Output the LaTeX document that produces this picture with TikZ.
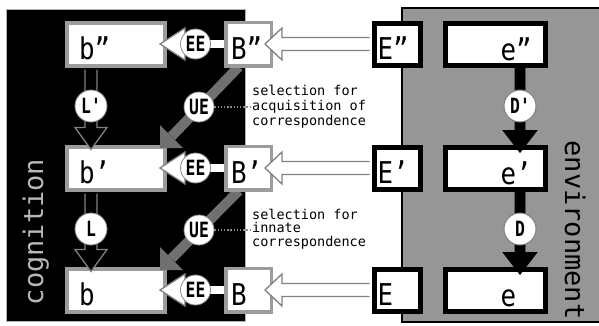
\documentclass[tikz,border=0pt]{standalone}
\usepackage{fontspec}
\usetikzlibrary{calc}
\newfontfamily\mono{DejaVu Sans Mono}
\newfontfamily\lblfont[FakeStretch=0.86]{DejaVu Sans Mono}
\newfontfamily\circfont[FakeStretch=0.78]{DejaVu Sans Mono Bold}
\definecolor{envgray}{HTML}{969696}
\definecolor{boxgray}{HTML}{9C9C9C}
\definecolor{uegray}{HTML}{707070}
\definecolor{cogtext}{HTML}{B8B8B8}
\definecolor{edgegray}{HTML}{8A8A8A}
\begin{document}
\begin{tikzpicture}[x=1pt,y=-1pt,
  cogbox/.style={draw=boxgray, line width=4pt, fill=white, inner sep=0pt},
  envbox/.style={draw=black, line width=5pt, fill=white, inner sep=0pt},
  lbl/.style={font=\lblfont\fontsize{30}{30}\selectfont, inner sep=0pt, anchor=base west},
  small/.style={font=\mono\fontsize{13.5}{13.5}\selectfont, inner sep=0pt, anchor=base west},
  circ/.style={circle, fill=white, draw=edgegray, line width=0.8pt, minimum size=30pt, inner sep=0pt, font=\circfont\fontsize{21}{21}\selectfont},
  hollow/.style={fill=white, draw=gray, line width=1.3pt, line join=miter},
  hollowdark/.style={fill=black, draw=gray, line width=1.3pt, line join=miter},
  dotline/.style={draw=edgegray, line width=1.4pt, dash pattern=on 1.4pt off 1.8pt},
  vert/.style={font=\mono\fontsize{27}{27}\selectfont, inner sep=0pt, anchor=base}]
\useasboundingbox (0,0) rectangle (599,325);
\fill[white] (0,0) rectangle (599,325);
% regions
\fill[black] (7,10) rectangle (245,321);
\draw[gray!60, line width=0.8pt] (6.6,9.6) rectangle (245,321.4);
\fill[envgray] (402,8) rectangle (600,322);
\draw[black, line width=1.5pt] (600,8) -- (402,8) -- (402,322) -- (600,322);
\node[vert, rotate=90, text=cogtext] (cog) at (43,232) {cognition};
\node[vert, rotate=-90, text=black] (env) at (565,230) {environment};
% boxes
\foreach \r/\c in {1/44, 2/168, 3/290}{
  \node[cogbox, minimum width=98pt, minimum height=43pt] (b\r) at (116,\c) {};
}
% UE arrows (under B boxes)
\foreach \r/\n in {1/2, 2/3}{
  \coordinate (tipUE\r) at ($(b\n.north east)+(-7,3.5)$);
  \draw[uegray, line width=10pt] (238.75,{\r==1 ? 66.75 : 190.75}) -- ($(tipUE\r)+(11.5,-11.5)$);
  \fill[uegray] (tipUE\r) -- ++(0,-23) -- ++(23,23) -- cycle;
}
\foreach \r/\c in {1/44, 2/168, 3/290}{
  \node[cogbox, line width=3.5pt, minimum width=45.5pt, minimum height=43.5pt] (B\r) at (248.5,\c) {};
  \node[envbox, minimum width=46pt, minimum height=42pt] (E\r) at (397.5,\c) {};
  \node[envbox, minimum width=100pt, minimum height=42pt] (e\r) at (495.5,\c) {};
  % E -> B hollow arrow
  \coordinate (tipEB\r) at ($(B\r.east)+(-8,0)$);
  \draw[hollow] ($(E\r.west)+(-2.5,-6.5)$) -- ($(tipEB\r)+(17,-6.5)$) -- ++(0,-9.5)
     -- (tipEB\r) -- ++(17,16) -- ++(0,-9.5) -- ($(E\r.west)+(-2.5,6.5)$);
  % EE circle and arrow to b
  \coordinate (EEc\r) at ($(B\r.west)+(-28.5,0)$);
  \fill[white] ($(EEc\r)+(0,-4)$) rectangle ($(B\r.west)+(0,4)$);
  \coordinate (tipEE\r) at ($(b\r.east)+(-7,0)$);
  \draw[hollow] ($(EEc\r)+(0,-6)$) -- ($(tipEE\r)+(25,-6)$) -- ++(0,-10)
     -- (tipEE\r) -- ++(25,16) -- ++(0,-10) -- ($(EEc\r)+(0,6)$);
  \node[circ] (EE\r) at (EEc\r) {EE};
}
% L arrows and D arrows
\foreach \r/\n/\lab in {1/2/{L'}, 2/3/{L}}{
  \draw[hollowdark] ($(b\r.south)+(-31,2)$) -- ($(b\n.north)+(-31,-17)$) -- ++(-10,0)
     -- ($(b\n.north)+(-25,5)$) -- ($(b\n.north)+(-9,-17)$) -- ++(-10,0) -- ($(b\r.south)+(-19,2)$);
  \node[circ, minimum size=32pt] (L\r) at ($($(b\r.south)!0.5!(b\n.north)$)+(-25,0)$) {\lab};
  \node[circ] (UE\r) at ($(b\r.south)!0.5!(b\n.north)+(83,1)$) {UE};
}
\foreach \r/\n/\lab in {1/2/{D'}, 2/3/{D}}{
  \filldraw[black, line width=0.6pt] ($(e\r.south)+(19.5,0)$) -- ($(e\n.north)+(19.5,-14)$) -- ($(e\n.north)+(7.5,-14)$)
     -- ($(e\n.north)+(24.5,8)$) -- ($(e\n.north)+(41.5,-14)$) -- ($(e\n.north)+(29.5,-14)$)
     -- ($(e\r.south)+(29.5,0)$) -- cycle;
  \node[circ, minimum size=32pt, draw=gray, line width=1pt] (D\r) at ($($(e\r.south)!0.5!(e\n.north)$)+(24.5,0)$) {\lab};
}
% labels
\foreach \r/\p in {1/{”}, 2/{’}, 3/{}}{
  \node[lbl] (lb\r) at ($(b\r.west)+(14,15)$) {b\p};
  \node[lbl] (lB\r) at ($(B\r.west)+(7,15)$) {B\p};
  \node[lbl] (lE\r) at ($(E\r.west)+(5.5,15)$) {E\p};
  \node[lbl] (le\r) at ($(e\r.west)+(57.5,16)$) {e\p};
}
% annotation texts
\node[small] (s1a) at (252,95) {selection for};
\node[small] (s1b) at (252,110) {acquisition of};
\node[small] (s1c) at (252,125) {correspondence};
\node[small] (s2a) at (252,219) {selection for};
\node[small] (s2b) at (252,232.5) {innate};
\node[small] (s2c) at (252,246) {correspondence};
\draw[dotline] (UE1.east) -- (UE1.east -| s1b.west);
\draw[dotline] (UE2.east) -- (UE2.east -| s2b.west);
\end{tikzpicture}
\end{document}
